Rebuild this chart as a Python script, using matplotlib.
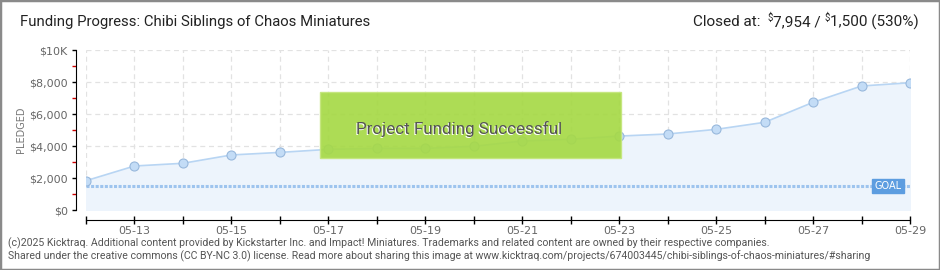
import datetime as dt
import matplotlib.pyplot as plt
import matplotlib.dates as mdates
import matplotlib.transforms as mtransforms
from matplotlib.patches import Rectangle
from matplotlib.ticker import FixedLocator

plt.rcParams['font.family'] = ['Roboto', 'DejaVu Sans']

# pledged total per day (USD)
days = ['05-12', '05-13', '05-14', '05-15', '05-16', '05-17', '05-18', '05-19', '05-20',
        '05-21', '05-22', '05-23', '05-24', '05-25', '05-26', '05-27', '05-28', '05-29']
pledged = [1830, 2750, 2920, 3440, 3600, 3790, 3850, 3850, 3980,
           4310, 4420, 4620, 4750, 5040, 5480, 6730, 7750, 7954]
goal = 1500
y_ticks = [0, 2000, 4000, 6000, 8000, 10000]
y_labels = ['$0', '$2,000', '$4,000', '$6,000', '$8,000', '$10K']

dates = [dt.datetime(2025, int(d[:2]), int(d[3:])) for d in days]

W, H = 940, 270
fig = plt.figure(figsize=(W / 100, H / 100), dpi=100)
fig.patch.set_facecolor('white')
fig.add_artist(Rectangle((0, 0), 1, 1, transform=fig.transFigure, fill=False,
                         edgecolor='#8a8a8a', linewidth=2.5))
renderer = fig.canvas.get_renderer()


def fit_text(t, width):
    # shrink a text so that it spans the given pixel width
    w = t.get_window_extent(renderer).width
    t.set_fontsize(t.get_fontsize() * width / w)


ax = fig.add_axes([86 / W, (H - 210) / H, 824 / W, 160 / H])
ax.set_xlim(dates[0], dates[-1])
ax.set_ylim(0, 10000)

# grid
for d in dates:
    ax.axvline(d, color='#e2e2e2', lw=0.9, ls=(0, (4, 3)), zorder=0)
for v in y_ticks:
    ax.axhline(v, color='#e2e2e2', lw=0.9, ls=(0, (4, 3)), zorder=0)

ax.fill_between(dates, pledged, 0, color='#edf4fc', zorder=1)
ax.plot(dates, pledged, color='#b8d5f3', lw=1.2, zorder=2)
ax.plot(dates, pledged, ls='none', marker='o', ms=6.5, mfc='#c3dcf6',
        mec='#98b8dc', mew=0.8, zorder=3)

# goal line
ax.axhline(goal, color='#9ec4ee', lw=2.2, ls=(0, (1.0, 0.5)), zorder=2)
trans = mtransforms.blended_transform_factory(ax.transAxes, ax.transData)
ax.text(0.973, goal, 'GOAL', transform=trans, ha='center', va='center',
        color='white', fontsize=7, family='DejaVu Sans', zorder=6,
        bbox=dict(boxstyle='square,pad=0.25', fc='#5d9de0', ec='#5d9de0'))

# success banner
ax.add_patch(Rectangle((0.284, 0.325), 0.365, 0.4125, transform=ax.transAxes,
                       fc='#a6d946', ec='#c4e67c', lw=1, alpha=0.92, zorder=5))
b1 = ax.text(0.4515, 0.5, 'Project Funding Successful', transform=ax.transAxes,
             ha='center', va='center', fontsize=13, color='white', zorder=6)
b2 = ax.text(0.4525, 0.508, 'Project Funding Successful', transform=ax.transAxes,
             ha='center', va='center', fontsize=13, color='#555555', zorder=7)
fit_text(b2, 207)
b1.set_fontsize(b2.get_fontsize())

# axes styling
for s in ['top', 'right']:
    ax.spines[s].set_visible(False)
ax.spines['left'].set_position(('outward', 7.2))
ax.spines['bottom'].set_position(('outward', 7.2))
ax.spines['left'].set_bounds(0, 10000)

ax.yaxis.set_major_locator(FixedLocator(y_ticks))
ax.set_yticklabels(y_labels, family='DejaVu Sans')
ax.yaxis.set_minor_locator(FixedLocator([1000, 3000, 5000, 7000, 9000]))
ax.tick_params(axis='y', which='major', length=3, width=1, color='black',
               labelsize=8, labelcolor='#666666', pad=3)
ax.tick_params(axis='y', which='minor', length=3, width=1, color='#cc0000')

ax.xaxis.set_major_locator(mdates.DayLocator(bymonthday=range(13, 32, 2)))
ax.xaxis.set_minor_locator(mdates.DayLocator())
ax.xaxis.set_major_formatter(mdates.DateFormatter('%m-%d'))
ax.tick_params(axis='x', which='both', direction='inout', length=6, width=1,
               color='black', labelsize=8, labelcolor='#666666', pad=1)
for lbl in ax.get_xticklabels():
    lbl.set_family('DejaVu Sans')

ax.set_ylabel('PLEDGED', fontsize=7, color='#777777', family='DejaVu Sans')
ax.yaxis.set_label_coords(-0.073, 0.5)

# header
title = fig.text(20 / W, 1 - 22 / H, 'Funding Progress: Chibi Siblings of Chaos Miniatures',
                 fontsize=12, color='#222222', va='center')
fit_text(title, 350)

pieces = [('Closed at:  ', 12, 0), ('$', 7.5, 4), ('7,954 / ', 12, 0),
          ('$', 7.5, 4), ('1,500 (530%)', 12, 0)]
texts = []
for s, size, dy in pieces:
    t = fig.text(0, (H - 22 + dy) / H, s, fontsize=size, color='#222222', va='center')
    texts.append(t)
total = sum(t.get_window_extent(renderer).width for t in texts)
scale = 225 / total
x = 693
for t in texts:
    t.set_fontsize(t.get_fontsize() * scale)
    t.set_x(x / W)
    x += t.get_window_extent(renderer).width

# footer
f1 = fig.text(8 / W, 1 - 243 / H,
              '(c)2025 Kicktraq. Additional content provided by Kickstarter Inc. and Impact! '
              'Miniatures. Trademarks and related content are owned by their respective companies.',
              fontsize=8, color='#555555', va='center')
f2 = fig.text(8 / W, 1 - 256 / H,
              'Shared under the creative commons (CC BY-NC 3.0) license. Read more about sharing '
              'this image at www.kicktraq.com/projects/674003445/chibi-siblings-of-chaos-miniatures/#sharing',
              fontsize=8, color='#555555', va='center')
fit_text(f1, 761)
fit_text(f2, 859)

fig.savefig('out.png', dpi=100, facecolor='white')
